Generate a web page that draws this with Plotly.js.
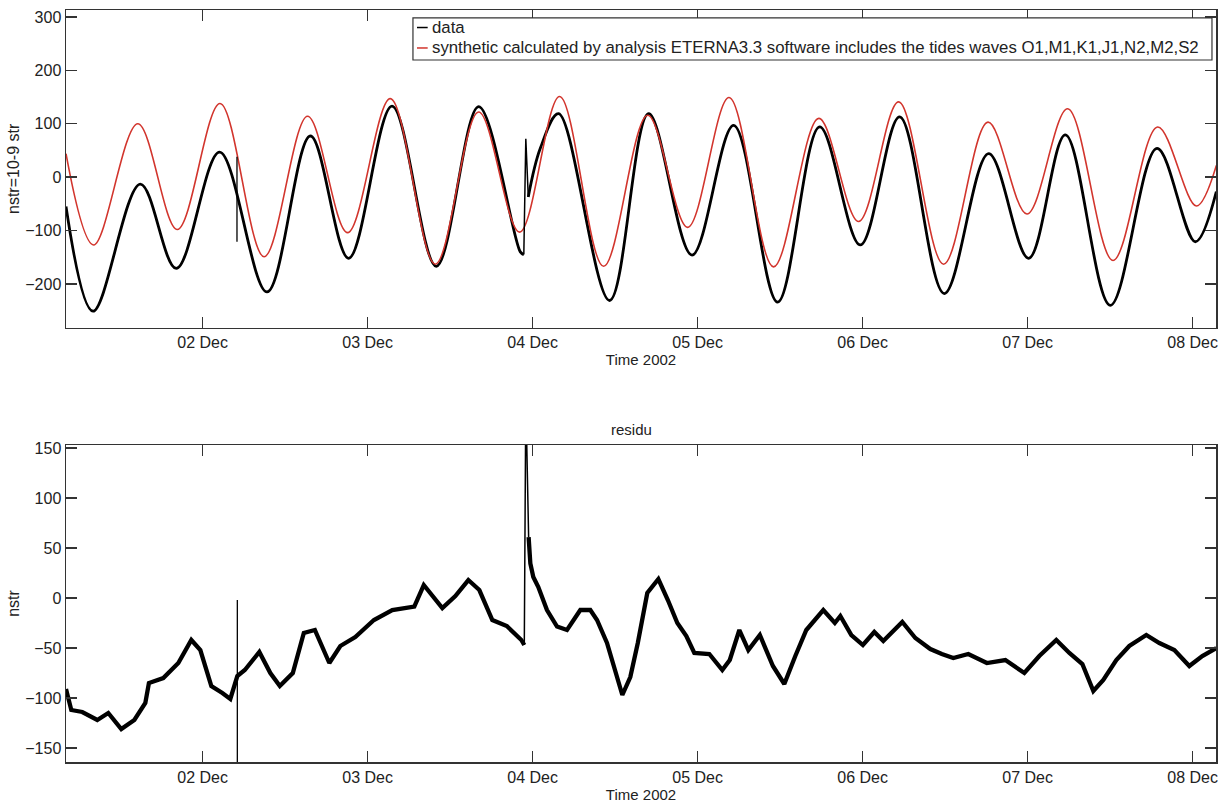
<!DOCTYPE html>
<html>
<head>
<meta charset="utf-8">
<script src="https://cdn.plot.ly/plotly-3.0.1.min.js"></script>
<style>
html,body{margin:0;padding:0;background:#fff;}
#chart{width:1229px;height:803px;}
</style>
</head>
<body>
<div id="chart"></div>
<script>
// Hours since 2002-12-01 00:00
const synthHours = [4.13, 8.15, 14.57, 20.32, 26.53, 32.95, 39.27, 45.09, 51.30, 57.85, 64.15, 70.11, 75.93, 82.33, 88.73, 94.55, 100.57, 107.05, 113.63, 119.42, 125.24, 131.78, 138.24, 143.91, 149.82, 156.42, 162.91, 168.54, 171.45];
const synthValues = [44, -127, 100, -98, 138, -149, 114, -104, 147, -163, 122, -103, 151, -167, 116, -94, 149, -168, 110, -83, 141, -163, 103, -69, 128, -156, 94, -54, 22];

const dataHours = [4.13, 8.06, 14.94, 20.17, 26.47, 33.37, 39.67, 45.24, 51.55, 57.99, 64.15, 70.21, 70.72, 70.9,
  71.37, 73.12, 75.78, 83.20, 88.87, 95.19, 101.24, 107.64, 113.75, 119.67, 125.38, 131.88, 138.33, 144.15, 149.49, 156.03, 162.82, 168.39, 171.45];
const dataValues = [-55, -251, -13, -171, 47, -215, 77, -152, 133, -167, 132, -140, -145, null,
  -37, 54, 119, -231, 119, -146, 97, -234, 94, -127, 113, -218, 44, -152, 79, -240, 54, -121, -27];

const dataJumpHours = [70.72, 71.01, 71.37];
const dataJumpValues = [-145, 72, -37];
const dataSpikeHours = [29.0, 29.0];
const dataSpikeValues = [38, -121];

const residuHours = [4.13, 4.90, 6.50, 8.68, 10.28, 12.17, 14.07, 15.67, 16.19, 18.28, 20.47, 22.36, 23.67, 25.27, 26.87, 28.03, 29.05, 30.14, 32.25, 33.85, 35.23, 37.12, 38.72, 40.33, 42.43, 44.03, 46.21, 48.92, 51.59, 54.79, 56.17, 58.87, 60.76, 62.65, 64.25, 66.14, 68.25, 70.36, 70.79, 70.9,
  71.42, 71.67, 72.10, 72.83, 74.09, 75.55, 77.00, 78.94, 80.39, 81.37, 82.82, 84.28, 85.05, 86.21, 87.30, 88.68, 90.29, 91.67, 93.05, 94.36, 95.52, 97.70, 99.59, 100.68, 102.07, 103.38, 105.05, 106.95, 108.61, 110.21, 111.81, 114.28, 115.96, 116.76, 118.36, 120.04, 121.70, 123.01, 125.77, 127.67, 129.85, 131.52, 133.19, 135.37, 138.07, 140.76, 143.52, 145.70, 148.17, 150.07, 151.96, 153.56, 155.01, 156.90, 158.79, 161.26, 163.16, 165.34, 167.52, 169.41, 170.86, 171.45];
const residuValues = [-91, -112, -114, -122, -115, -131, -122, -105, -85, -80, -65, -42, -52, -88, -95, -101, -78, -72, -54, -75, -88, -75, -35, -32, -65, -48, -39, -22, -12, -8.5, 13, -10, 2, 18, 8, -22, -28, -42, -47, null,
  61, 34.5, 21, 11, -12, -28.5, -32, -12, -12, -22, -45, -78, -97, -79, -45, 5, 19, -2, -25, -38, -55, -56, -72, -62, -32, -52, -37, -68, -86, -58, -32, -12, -25, -18, -37, -47, -34, -43, -24, -40, -51, -56, -60, -56, -65, -62, -75, -58, -42, -55, -66, -93, -82, -62, -48, -37, -45, -52, -68, -58, -52, -50];

const residuJumpHours = [70.79, 71.01, 71.42];
const residuJumpValues = [-47, 200, 61];
const residuSpikeHours = [29.05, 29.05];
const residuSpikeValues = [-2, -200];

const topYTicks = [-200, -100, 0, 100, 200, 300];
const botYTicks = [-150, -100, -50, 0, 50, 100, 150];
const xRangeHours = [4.13, 171.4];

const legendNames = ['data', 'synthetic calculated by analysis ETERNA3.3 software includes the tides waves O1,M1,K1,J1,N2,M2,S2'];

function toDate(h) {
  if (h === null) return null;
  const d = new Date(Date.UTC(2002, 11, 1) + h * 3600000);
  return d.toISOString().replace('T', ' ').slice(0, 19);
}
const D = arr => arr.map(toDate);

const FONT = 'Liberation Sans, Arial, sans-serif';
const RED = '#d2352d';
const BLK = '#000000';

const traces = [
  {x: D(dataHours), y: dataValues, mode: 'lines', name: legendNames[0], showlegend: false, line: {color: BLK, width: 2.8, shape: 'spline', smoothing: 1}, connectgaps: false, xaxis: 'x', yaxis: 'y'},
  {x: D(synthHours), y: synthValues, mode: 'lines', name: legendNames[1], showlegend: false, line: {color: RED, width: 1.6, shape: 'spline', smoothing: 1}, xaxis: 'x', yaxis: 'y'},
  {x: D(dataJumpHours), y: dataJumpValues, mode: 'lines', showlegend: false, line: {color: BLK, width: 1.5}, xaxis: 'x', yaxis: 'y'},
  {x: D(dataSpikeHours), y: dataSpikeValues, mode: 'lines', showlegend: false, line: {color: BLK, width: 1.3}, xaxis: 'x', yaxis: 'y'},
  {x: D(residuHours), y: residuValues, mode: 'lines', showlegend: false, line: {color: BLK, width: 4.3}, connectgaps: false, xaxis: 'x2', yaxis: 'y2'},
  {x: D(residuJumpHours), y: residuJumpValues, mode: 'lines', showlegend: false, line: {color: BLK, width: 1.5}, xaxis: 'x2', yaxis: 'y2'},
  {x: D(residuSpikeHours), y: residuSpikeValues, mode: 'lines', showlegend: false, line: {color: BLK, width: 1.3}, xaxis: 'x2', yaxis: 'y2'}
];

const axisCommon = {
  showline: true, linecolor: '#333', linewidth: 1.5, mirror: 'ticks',
  ticks: 'inside', ticklen: 11, tickwidth: 1.5, tickcolor: '#333',
  showgrid: false, zeroline: false,
  tickfont: {family: FONT, size: 16, color: '#222'}
};
const xCommon = Object.assign({}, axisCommon, {
  type: 'date', range: D(xRangeHours), tickformat: '%d %b',
  tick0: '2002-12-01', dtick: 86400000
});

// legend drawn in the upper panel (paper coordinates)
const legBox = {x0: 0.3017, x1: 0.9965, y0: 0.9335, y1: 0.9894};
const legRows = [0.9767, 0.9495];
const legColors = [BLK, RED];
const shapes = [
  {type: 'rect', xref: 'paper', yref: 'paper', x0: legBox.x0, x1: legBox.x1, y0: legBox.y0, y1: legBox.y1,
   line: {color: '#333', width: 1.2}, fillcolor: '#fff', layer: 'above'}
];
const annotations = [];
legRows.forEach((ry, i) => {
  shapes.push({type: 'line', xref: 'paper', yref: 'paper', x0: 0.3052, x1: 0.3145, y0: ry, y1: ry,
    line: {color: legColors[i], width: 1.5}, layer: 'above'});
  annotations.push({text: legendNames[i], xref: 'paper', yref: 'paper', x: 0.3168, y: ry,
    xanchor: 'left', yanchor: 'middle', showarrow: false,
    font: {family: FONT, size: 16.8, color: '#222'}});
});
annotations.push({
  text: 'residu', xref: 'paper', yref: 'paper', x: 0.492, y: 0.4415,
  xanchor: 'center', yanchor: 'middle', showarrow: false,
  font: {family: FONT, size: 15, color: '#222'}
});

const layout = {
  width: 1229, height: 803,
  margin: {l: 66, r: 13, t: 10, b: 41},
  paper_bgcolor: '#fff', plot_bgcolor: '#fff',
  font: {family: FONT, size: 15, color: '#222'},
  showlegend: false,
  xaxis: Object.assign({}, xCommon, {domain: [0, 1], anchor: 'y',
    title: {text: 'Time 2002', font: {family: FONT, size: 15, color: '#222'}, standoff: 3}}),
  yaxis: Object.assign({}, axisCommon, {domain: [0.5775, 1], anchor: 'x', range: [-282, 313],
    tickvals: topYTicks,
    title: {text: 'nstr=10-9 str', font: {family: FONT, size: 16, color: '#222'}, standoff: 1}}),
  xaxis2: Object.assign({}, xCommon, {domain: [0, 1], anchor: 'y2',
    title: {text: 'Time 2002', font: {family: FONT, size: 15, color: '#222'}, standoff: 3}}),
  yaxis2: Object.assign({}, axisCommon, {domain: [0, 0.4215], anchor: 'x2', range: [-164, 153],
    tickvals: botYTicks,
    title: {text: 'nstr', font: {family: FONT, size: 16, color: '#222'}, standoff: 1}}),
  shapes: shapes,
  annotations: annotations
};

Plotly.newPlot('chart', traces, layout, {displayModeBar: false, staticPlot: true});
</script>
</body>
</html>
